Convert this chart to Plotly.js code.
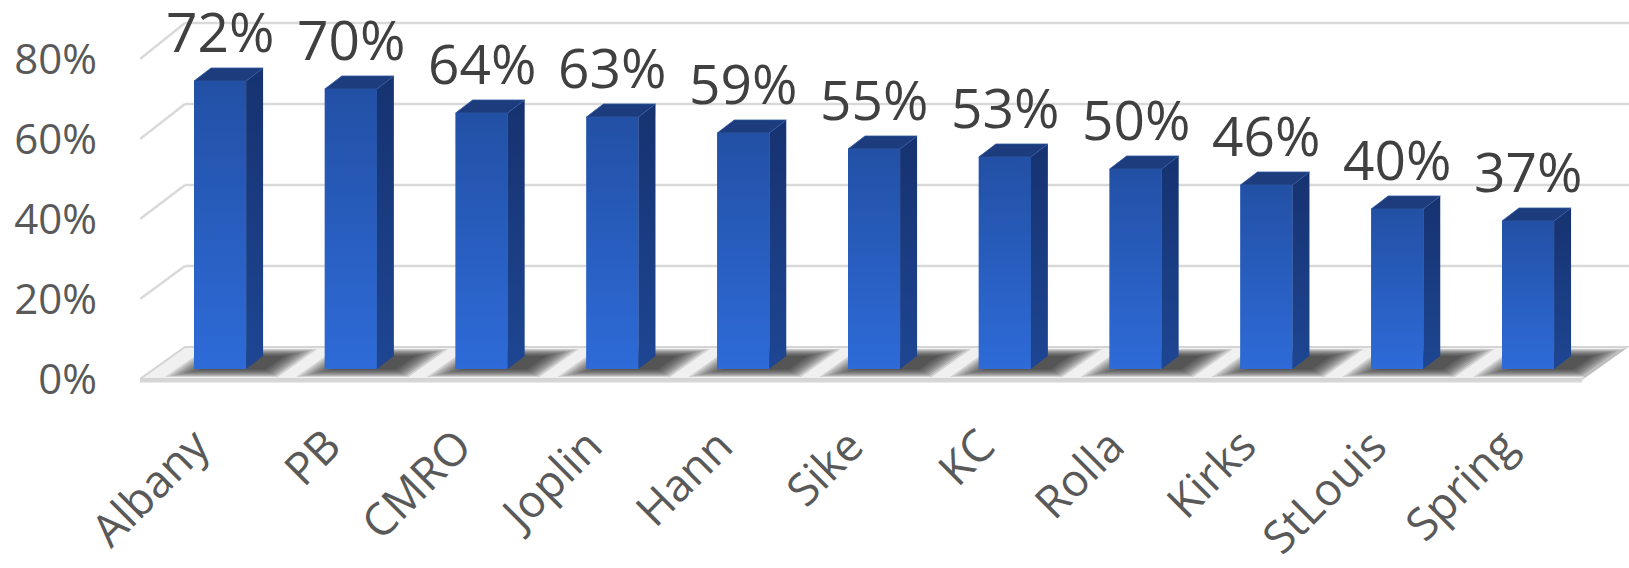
<!DOCTYPE html>
<html><head><meta charset="utf-8">
<script src="https://cdn.plot.ly/plotly-3.0.1.min.js"></script>
<style>html,body{margin:0;padding:0;background:#fff}#chart{width:1629px;height:568px}</style>
</head><body><div id="chart"></div>
<script>
// ---- data ----
const categories = ['Albany','PB','CMRO','Joplin','Hann','Sike','KC','Rolla','Kirks','StLouis','Spring'];
const values = [72,70,64,63,59,55,53,50,46,40,37];
const tickValues = [0,20,40,60,80];
const tickLabels = ['0%','20%','40%','60%','80%'];

// ---- pseudo-3D styling constants ----
const BAR_W = 0.398, DX = 0.13, DY = 3.25;
const FLOOR_FRONT = -2.5, FLOOR_BACK = 5.5, FLOOR_DX = 0.344;
const X_MIN = -0.612, X_MAX = 10.772, FLOOR_RIGHT = 10.413;
const WALL_SCALE = 1.0125;
const FONT = '"Open Sans", "Noto Sans", sans-serif';

const idx = categories.map((_, i) => i);
const shapes = [];
const traces = [];

function fp(xf, t) { // point on floor plane
  return [xf + t * FLOOR_DX, FLOOR_FRONT + t * (FLOOR_BACK - FLOOR_FRONT)];
}
function pathOf(pts) {
  return 'M' + pts.map(p => p[0] + ',' + p[1]).join(' L') + ' Z';
}

// back-wall gridlines and left-wall diagonals
tickValues.forEach(g => {
  const yb = FLOOR_BACK + g * WALL_SCALE;
  if (g > 0) {
    shapes.push({type:'line', layer:'below', xref:'x', yref:'y', x0:X_MIN + FLOOR_DX, x1:X_MAX, y0:yb, y1:yb,
      line:{color:'#d9d9d9', width:2.5}});
    shapes.push({type:'line', layer:'below', xref:'x', yref:'y', x0:X_MIN, y0:g + FLOOR_FRONT, x1:X_MIN + FLOOR_DX, y1:yb,
      line:{color:'#d9d9d9', width:2.5}});
  }
});

// floor
shapes.push({type:'path', layer:'below', xref:'x', yref:'y',
  path: pathOf([fp(X_MIN,0), fp(X_MIN,1), fp(FLOOR_RIGHT,1), fp(FLOOR_RIGHT,0)]),
  fillcolor:'#f0f0f0', line:{color:'#d4d4d4', width:2}});
shapes.push({type:'rect', layer:'below', xref:'x', yref:'y', x0:X_MIN, x1:FLOOR_RIGHT, y0:FLOOR_FRONT - 0.9, y1:FLOOR_FRONT,
  fillcolor:'#d6d6d6', line:{width:0}});

// soft floor shadows behind each bar (stacked translucent layers)
const SH_N = 9;
idx.forEach(i => {
  for (let k = 0; k < SH_N; k++) {
    const f = k / (SH_N - 1);
    const a = 0.44 - f * 0.20, b = 0.42 - f * 0.18;
    const t0 = 0.06 + f * 0.24, t1 = 0.94 - f * 0.22;
    shapes.push({type:'path', layer:'below', xref:'x', yref:'y',
      path: pathOf([fp(i - a, t0), fp(i - a, t1), fp(i + b, t1), fp(i + b, t0)]),
      fillcolor:'rgba(40,40,40,0.15)', line:{width:0}});
  }
});

// main bar trace (front faces)
traces.push({type:'bar', x: idx, y: values, width: BAR_W, marker:{color:'#2A5EC3', line:{width:0}},
  text: categories, hovertemplate:'%{text}: %{y}%<extra></extra>', textposition:'none', showlegend:false});

// gradient overlays and 3D faces
idx.forEach(i => {
  const v = values[i];
  const xl = i - BAR_W / 2, xr = i + BAR_W / 2;
  traces.push({type:'scatter', mode:'lines', x:[xl, xr, xr, xl, xl], y:[0, 0, v, v, 0], fill:'toself',
    line:{width:0, color:'#2A5EC3'}, fillgradient:{type:'vertical', colorscale:[[0,'#2E6BD8'],[1,'#2250A5']]},
    hoverinfo:'skip', showlegend:false});
  traces.push({type:'scatter', mode:'lines', x:[xr, xr + DX, xr + DX, xr, xr], y:[0, DY, v + DY, v, 0], fill:'toself',
    line:{width:0, color:'#1B3E82'}, fillgradient:{type:'vertical', colorscale:[[0,'#1E4693'],[1,'#163270']]},
    hoverinfo:'skip', showlegend:false});
  traces.push({type:'scatter', mode:'lines', x:[xl, xr, xr + DX, xl + DX, xl], y:[v, v, v + DY, v + DY, v], fill:'toself',
    line:{width:0.8, color:'#2B55A0'}, fillcolor:'#1D3C7E', hoverinfo:'skip', showlegend:false});
});

const annotations = [];
idx.forEach(i => {
  annotations.push({xref:'x', yref:'y', x:i, y:values[i] + DY, text: values[i] + '%', showarrow:false,
    xanchor:'center', yanchor:'bottom', yshift:-2, font:{family:FONT, size:55, color:'#404040'}});
  annotations.push({xref:'x', yref:'paper', x:i, y:-0.03, xshift:4, text: categories[i], showarrow:false,
    textangle:-45, xanchor:'right', yanchor:'top', font:{family:FONT, size:45, color:'#595959'}});
});

const layout = {
  width:1629, height:568,
  margin:{l:140, r:0, t:0, b:168, autoexpand:false},
  paper_bgcolor:'#ffffff', plot_bgcolor:'rgba(0,0,0,0)',
  showlegend:false,
  xaxis:{range:[X_MIN, X_MAX], showgrid:false, zeroline:false, showline:false, showticklabels:false, ticks:'', fixedrange:true},
  yaxis:{range:[-7.75, 92.25], showgrid:false, zeroline:false, showline:false, ticks:'',
    tickmode:'array', tickvals: tickValues.map(g => g + FLOOR_FRONT), ticktext: tickLabels,
    ticklabelstandoff:42, tickfont:{family:FONT, size:42, color:'#595959'}, fixedrange:true, automargin:false},
  shapes: shapes,
  annotations: annotations
};

Plotly.newPlot('chart', traces, layout, {displayModeBar:false, staticPlot:true});
</script>
</body></html>
